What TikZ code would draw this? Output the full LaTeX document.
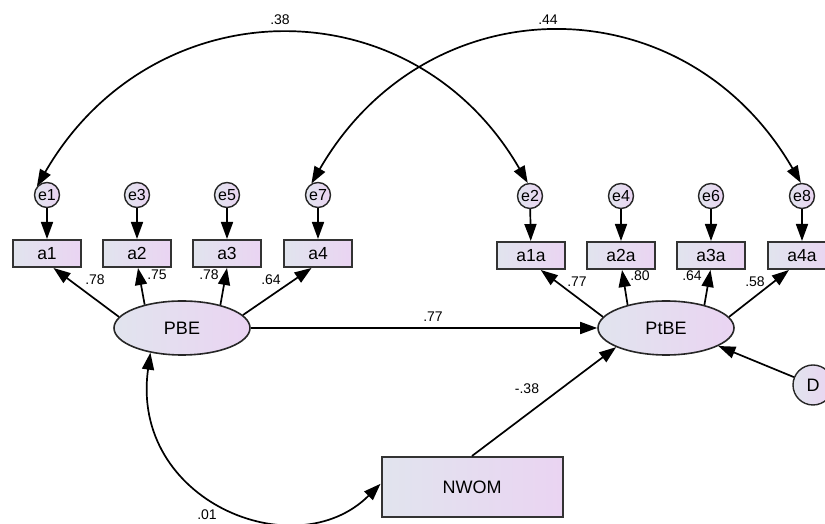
\documentclass[tikz,border=0pt]{standalone}
\usepackage{fontspec}
\setmainfont{Liberation Sans}
\usetikzlibrary{arrows.meta,shapes.geometric}
\definecolor{gL}{RGB}{225,228,238}
\definecolor{gR}{RGB}{234,212,242}
\begin{document}
\begin{tikzpicture}[x=1pt,y=1pt,
 every node/.style={inner sep=0pt},
 obs/.style={draw=black!80, line width=2pt, minimum width=68pt, minimum height=27pt, left color=gL, right color=gR, font=\fontsize{17.5}{17.5}\selectfont},
 lat/.style={ellipse, draw=black!85, line width=1.6pt, minimum width=136pt, minimum height=54pt, left color=gL, right color=gR, font=\fontsize{18}{18}\selectfont},
 err/.style={circle, draw=black!85, line width=1.4pt, minimum size=25pt, left color=gL, right color=gR, font=\fontsize{16}{16}\selectfont},
 arr/.style={-{Triangle[length=17pt,width=12pt]}, line width=1.7pt},
 cov/.style={{Triangle[length=17pt,width=12pt]}-{Triangle[length=17pt,width=12pt]}, line width=1.7pt},
 lab/.style={font=\fontsize{14}{14}\selectfont}
]
\useasboundingbox (0,0) rectangle (825,524);
\clip (0,0) rectangle (825,524);
% error circles
\node[err] (e1) at (47,329) {e1};
\node[err] (e3) at (137,329) {e3};
\node[err] (e5) at (227,329) {e5};
\node[err] (e7) at (318,329) {e7};
\node[err] (e2) at (530,328) {e2};
\node[err] (e4) at (621,328) {e4};
\node[err] (e6) at (711,328) {e6};
\node[err] (e8) at (802,328) {e8};
% indicators
\node[obs] (a1) at (47,270.5) {a1};
\node[obs] (a2) at (137,270.5) {a2};
\node[obs] (a3) at (227,270.5) {a3};
\node[obs] (a4) at (318,270.5) {a4};
\node[obs] (a1a) at (531,268.5) {a1a};
\node[obs] (a2a) at (621,268.5) {a2a};
\node[obs] (a3a) at (711,268.5) {a3a};
\node[obs] (a4a) at (802,268.5) {a4a};
% latents
\node[lat] (PBE) at (182,196) {PBE};
\node[lat] (PtBE) at (666,196) {PtBE};
\node[obs, minimum width=181pt, minimum height=60pt, font=\fontsize{18}{18}\selectfont] (NWOM) at (472,37) {NWOM};
\node[err, minimum size=40pt, font=\fontsize{18}{18}\selectfont] (D) at (813,139) {D};
% error arrows
\foreach \e/\a in {e1/a1,e3/a2,e5/a3,e7/a4,e2/a1a,e4/a2a,e6/a3a,e8/a4a}
  \draw[arr] (\e) -- (\a);
% loadings
\draw[arr] (PBE.170) -- (a1.-66);
\draw[arr] (PBE.148) -- (a2.-86);
\draw[arr] (PBE.31) -- (a3.-90);
\draw[arr] (PBE.12) -- (a4.-114);
\draw[arr] (PtBE.170) -- (a1a.-56);
\draw[arr] (PtBE.149) -- (a2a.-86);
\draw[arr] (PtBE.31) -- (a3a.-92);
\draw[arr] (PtBE.10) -- (a4a.-132);
% structural
\draw[arr] (PBE.east) -- (PtBE.west);
\draw[arr] (NWOM.north) -- (PtBE.201);
\draw[arr] (D) -- (PtBE.-19);
% covariances
\draw[cov] (PBE.218) .. controls +(262:150) and +(225:120) .. (NWOM.178);
\draw[cov] (e1.140) .. controls +(60:231) and +(120:231) .. (e2.100);
\draw[cov] (e7.120) .. controls +(60:232) and +(120:232) .. (e8.95);
% labels
\node[lab] at (280,504) {.38};
\node[lab] at (548,504) {.44};
\node[lab] at (95,244) {.78};
\node[lab] at (157,249) {.75};
\node[lab] at (209,249) {.78};
\node[lab] at (271,244) {.64};
\node[lab] at (577,242) {.77};
\node[lab] at (640,248) {.80};
\node[lab] at (692,248) {.64};
\node[lab] at (755,242) {.58};
\node[lab] at (433,207) {.77};
\node[lab] at (527,135) {-.38};
\node[lab] at (207,9) {.01};
\end{tikzpicture}
\end{document}
